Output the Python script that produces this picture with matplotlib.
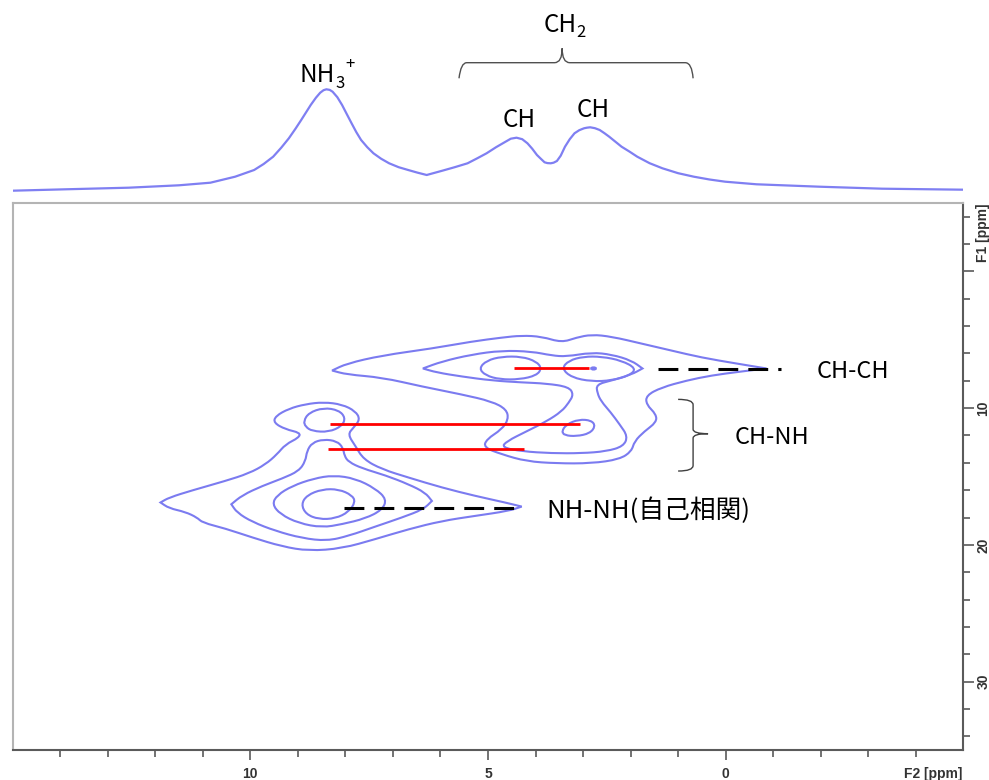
import numpy as np
import matplotlib
matplotlib.use("Agg")
import matplotlib.pyplot as plt
from matplotlib.path import Path
from matplotlib.patches import PathPatch
from matplotlib.ticker import FixedLocator
import matplotlib.transforms as mtransforms

# ---------------- data ----------------
# 1D projection (F2 ppm, intensity a.u.)
spec_ppm = [15.0, 13.88, 12.56, 11.5, 10.84, 10.32, 9.92, 9.72, 9.52, 9.35, 9.19, 9.05, 8.93,
            8.73, 8.62, 8.53, 8.46, 8.40, 8.33, 8.27, 8.17, 8.07, 7.97, 7.87, 7.77, 7.67, 7.54,
            7.41, 7.25, 7.08, 6.88, 6.68, 6.48, 6.29, 5.96, 5.70, 5.43, 5.23, 5.03, 4.83, 4.63,
            4.52, 4.40, 4.28, 4.17, 4.07, 3.97, 3.89, 3.81, 3.75, 3.68, 3.62, 3.55, 3.47, 3.38,
            3.28, 3.18, 3.08, 2.98, 2.92, 2.85, 2.75, 2.65, 2.55, 2.45, 2.32, 2.19, 2.02, 1.86,
            1.60, 1.33, 1.00, 0.67, 0.34, 0.01, -0.65, -1.97, -3.29, -5.0]
spec_int = [0, 1.4, 3.0, 5.4, 8.0, 14.0, 20.7, 26.7, 34.0, 43.0, 52.4, 62.0, 70.7,
            85.7, 93.0, 98.0, 100.5, 101.4, 100.8, 99.0, 93.5, 85.7, 76.5, 67.4, 58.5, 50.7, 43.5,
            37.4, 32.0, 27.4, 23.5, 20.7, 18.0, 15.7, 20.0, 23.5, 27.4, 32.3, 37.4, 43.5, 49.0,
            52.0, 53.0, 51.5, 47.4, 42.0, 35.7, 32.0, 28.4, 27.6, 27.4, 28.0, 29.7, 35.0, 44.0,
            51.5, 57.4, 60.5, 62.4, 63.0, 63.4, 62.5, 60.7, 57.5, 54.0, 49.0, 44.0, 39.0, 34.0,
            27.5, 22.4, 17.5, 14.0, 11.2, 9.0, 6.4, 4.0, 2.0, 1.0]

up_l1_f2 = [8.28, 7.97, 7.23, 6.18, 5.34, 4.71, 4.29, 3.87, 3.45, 3.14, 2.82, 2.40, 1.77, 1.14,
            0.51, -0.23, -0.86, -0.33, 0.30, 0.82, 1.35, 1.67, 1.67, 1.46, 1.46, 1.71, 1.92,
            1.98, 2.23, 2.82, 3.56, 4.19, 4.71, 5.09, 5.03, 4.71, 4.57, 4.61, 4.92, 5.55, 6.39,
            7.23, 7.97]
up_l1_f1 = [7.25, 6.74, 6.15, 5.64, 5.13, 4.84, 4.69, 4.77, 5.20, 4.84, 4.62, 4.77, 5.28, 5.79,
            6.30, 6.74, 7.10, 7.32, 7.61, 7.98, 8.49, 9.07, 9.73, 10.46, 11.04, 11.70, 12.43,
            13.16, 13.74, 14.04, 14.04, 13.89, 13.38, 12.87, 12.28, 11.55, 10.82, 10.09, 9.51,
            9.00, 8.42, 7.76, 7.54]
up_l2_f2 = [6.37, 5.97, 5.34, 4.71, 4.08, 3.66, 3.35, 2.82, 2.40, 1.98, 1.75, 1.98, 2.40, 2.72,
            2.70, 2.62, 2.42, 2.23, 2.06, 2.15, 2.51, 3.03, 3.66, 4.29, 4.71, 4.61, 4.19, 3.77,
            3.45, 3.30, 3.20, 3.30, 3.77, 4.29, 4.92, 5.55, 6.08]
up_l2_f1 = [7.10, 6.59, 6.08, 5.79, 5.86, 6.15, 6.23, 5.93, 6.08, 6.52, 7.10, 7.54, 7.98, 8.27,
            8.90, 9.50, 10.30, 11.19, 12.06, 12.79, 13.16, 13.30, 13.30, 13.16, 12.87, 12.43,
            11.70, 10.97, 10.24, 9.60, 9.00, 8.45, 8.20, 8.12, 7.98, 7.69, 7.39]
up_l3a_f2 = [5.19, 5.03, 4.71, 4.29, 3.98, 3.87, 3.98, 4.33, 4.75, 5.05]
up_l3a_f1 = [7.10, 6.52, 6.23, 6.23, 6.59, 7.10, 7.61, 7.90, 7.90, 7.61]
up_l3b_f2 = [3.45, 3.30, 2.99, 2.61, 2.19, 1.88, 2.02, 2.40, 2.82, 3.24]
up_l3b_f1 = [7.10, 6.52, 6.23, 6.23, 6.52, 7.10, 7.61, 7.98, 8.05, 7.76]
up_l4b_f2 = [2.85, 2.78, 2.71, 2.78]
up_l4b_f1 = [7.10, 6.99, 7.10, 7.21]
chnh_l3_f2 = [3.45, 3.35, 3.09, 2.82, 2.74, 2.86, 3.14, 3.39]
chnh_l3_f1 = [11.70, 11.19, 10.82, 10.90, 11.33, 11.85, 12.06, 11.99]

lo_l1_f2 = [11.89, 11.71, 11.22, 10.53, 10.03, 9.68, 9.44, 9.26, 8.98, 8.95, 9.26, 9.51, 9.47,
            9.19, 8.84, 8.46, 8.07, 7.79, 7.69, 7.83, 7.95, 7.79, 7.62, 7.23, 6.67, 5.97, 5.27,
            4.64, 4.29, 4.57, 5.27, 5.97, 6.67, 7.37, 8.07, 8.77, 9.33, 9.96, 10.53, 11.01,
            11.12, 11.37, 11.71]
lo_l1_f1 = [16.90, 16.54, 16.01, 15.33, 14.77, 14.11, 13.38, 12.65, 12.16, 11.80, 11.55, 11.07,
            10.58, 10.04, 9.71, 9.56, 9.73, 10.22, 10.82, 11.43, 11.92, 12.77, 13.74, 14.47,
            15.08, 15.81, 16.42, 16.90, 17.20, 17.52, 17.88, 18.25, 18.85, 19.58, 20.26, 20.44,
            20.12, 19.46, 18.80, 18.37, 18.00, 17.59, 17.32]
lo_l2_f2 = [10.40, 10.17, 9.75, 9.33, 8.98, 8.84, 8.81, 8.70, 8.46, 8.18, 8.05, 8.02, 7.93, 7.65,
            7.16, 6.67, 6.32, 6.18, 6.36, 6.81, 7.37, 7.93, 8.39, 8.91, 9.47, 9.96, 10.28]
lo_l2_f1 = [17.03, 16.37, 15.69, 15.15, 14.60, 13.87, 13.14, 12.53, 12.28, 12.41, 12.89, 13.50,
            13.94, 14.40, 14.91, 15.57, 16.18, 16.79, 17.40, 18.00, 18.66, 19.34, 19.71, 19.51,
            18.98, 18.32, 17.64]
lo_l3_f2 = [9.54, 9.44, 9.12, 8.67, 8.25, 7.79, 7.37, 7.13, 7.23, 7.58, 8.07, 8.49, 8.98, 9.37]
lo_l3_f1 = [17.03, 16.37, 15.69, 15.15, 14.91, 15.15, 15.88, 16.67, 17.45, 18.07, 18.49, 18.73,
            18.42, 17.76]
lo_l4_f2 = [8.93, 8.81, 8.49, 8.14, 7.86, 7.79, 7.93, 8.21, 8.56, 8.83]
lo_l4_f1 = [17.03, 16.37, 15.93, 15.93, 16.37, 16.86, 17.59, 18.07, 18.13, 17.76]
nhch_l2_f2 = [8.88, 8.77, 8.46, 8.14, 8.00, 8.07, 8.35, 8.70, 8.84]
nhch_l2_f1 = [10.95, 10.34, 9.97, 10.15, 10.70, 11.31, 11.75, 11.68, 11.36]

# correlation guide lines: (F1, F2 start, F2 end)
red_lines = [(7.10, 4.46, 2.88), (11.19, 8.33, 3.07), (13.01, 8.37, 4.25)]
dash_lines = [(7.12, 1.42, -1.17), (17.27, 8.04, 4.40)]

x_major = [10, 5, 0]
x_minor = [14, 13, 12, 11, 9, 8, 7, 6, 4, 3, 2, 1, -1, -2, -3, -4]
y_major = [0, 10, 20, 30]
y_major_labels = ["", "10", "20", "30"]
y_minor = [-4, -2, 2, 4, 6, 8, 12, 14, 16, 18, 22, 24, 26, 28, 32, 34]

# ---------------- style ----------------
CONT = "#7b7bf0"
CJK = ["Noto Sans CJK JP", "DejaVu Sans"]
TICKFONT = dict(family="Liberation Sans", weight="bold", size=10)


def smooth_ring(f2, f1, sharp=()):
    pts = []
    for i, p in enumerate(zip(f2, f1)):
        pts.append(p)
        if i in sharp:
            pts.append(p)
    P = np.array(pts, dtype=float)
    M = (P + np.roll(P, -1, axis=0)) / 2.0
    verts = [M[-1]]
    codes = [Path.MOVETO]
    for i in range(len(P)):
        verts += [P[i], M[i]]
        codes += [Path.CURVE3, Path.CURVE3]
    return Path(verts, codes)


fig = plt.figure(figsize=(9.89, 7.80), dpi=100)
fig.patch.set_facecolor("white")

ax = fig.add_axes([0.01284, 0.03846, 0.96117, 0.70128])
ax_top = fig.add_axes([0.01284, 0.7436, 0.96117, 0.2564])

# ---- 1D projection ----
ax_top.plot(spec_ppm, spec_int, color="#7f7ff2", lw=1.6)
ax_top.set_xlim(15, -5)
ax_top.set_ylim(-9.3, 190.7)
ax_top.axis("off")

LBL = 17.5
SUB = 12
t_nh = ax_top.text(8.96, 109, "NH", family=CJK, fontsize=LBL, ha="left", va="baseline")
t_3 = ax_top.annotate("3", xy=(1.0, 102.4), xycoords=(t_nh, "data"), xytext=(0.3, 0),
                      textcoords="offset points", family=CJK, fontsize=SUB, ha="left",
                      va="baseline")
ax_top.annotate("+", xy=(1.0, 126.0), xycoords=(t_3, "data"), xytext=(0.2, 0),
                textcoords="offset points", family=CJK, fontsize=SUB, ha="left", va="center")
ax_top.text(4.69, 64, "CH", family=CJK, fontsize=LBL, ha="left", va="baseline")
ax_top.text(3.14, 73.4, "CH", family=CJK, fontsize=LBL, ha="left", va="baseline")
t_ch2 = ax_top.text(3.84, 159, "CH", family=CJK, fontsize=LBL, ha="left", va="baseline")
ax_top.annotate("2", xy=(1.0, 154), xycoords=(t_ch2, "data"), xytext=(0.3, 0),
                textcoords="offset points", family=CJK, fontsize=SUB, ha="left", va="baseline")

# horizontal brace over CH2 region
bv = [(5.61, 112.4), (5.57, 128), (5.45, 128), (3.60, 128), (3.44, 128), (3.44, 142.4),
      (3.44, 128), (3.28, 128), (0.85, 128), (0.71, 128), (0.685, 112.4)]
bc = [Path.MOVETO, Path.CURVE3, Path.CURVE3, Path.LINETO, Path.CURVE3, Path.CURVE3,
      Path.CURVE3, Path.CURVE3, Path.LINETO, Path.CURVE3, Path.CURVE3]
ax_top.add_patch(PathPatch(Path(bv, bc), fill=False, edgecolor="#505050", lw=1.0))

# ---- 2D map ----
ax.set_xlim(15, -5)
ax.set_ylim(35, -5)

rings = [
    (up_l1_f2, up_l1_f1, (0, 16)),
    (up_l2_f2, up_l2_f1, (0, 10)),
    (up_l3a_f2, up_l3a_f1, ()),
    (up_l3b_f2, up_l3b_f1, ()),
    (up_l4b_f2, up_l4b_f1, ()),
    (chnh_l3_f2, chnh_l3_f1, ()),
    (lo_l1_f2, lo_l1_f1, (0, 28)),
    (lo_l2_f2, lo_l2_f1, (0, 17)),
    (lo_l3_f2, lo_l3_f1, ()),
    (lo_l4_f2, lo_l4_f1, ()),
    (nhch_l2_f2, nhch_l2_f1, ()),
]
for f2, f1, sharp in rings:
    ax.add_patch(PathPatch(smooth_ring(f2, f1, sharp), fill=False, edgecolor=CONT, lw=1.5))

for f1, a, b in red_lines:
    ax.plot([a, b], [f1, f1], color="#ff0000", lw=2.0, solid_capstyle="butt")
for f1, a, b in dash_lines:
    ax.plot([a, b], [f1, f1], color="black", lw=2.2, dashes=(6.5, 3.3), dash_capstyle="butt")

# labels
ax.text(-1.91, 7.80, "CH-CH", family=CJK, fontsize=17, ha="left", va="baseline")
ax.text(-0.19, 12.65, "CH-NH", family=CJK, fontsize=17, ha="left", va="baseline")
ax.text(3.77, 18.05, "NH-NH(自己相関)", family=CJK, fontsize=18.5, ha="left", va="baseline")

# vertical brace for CH-NH
xv, xe, xt = 0.685, 1.00, 0.37
rv = [(xe, 9.36), (xv, 9.36), (xv, 9.75), (xv, 11.55), (xv, 11.87), (xt, 11.87),
      (xv, 11.87), (xv, 12.19), (xv, 14.2), (xv, 14.6), (xe, 14.6)]
rc = [Path.MOVETO, Path.CURVE3, Path.CURVE3, Path.LINETO, Path.CURVE3, Path.CURVE3,
      Path.CURVE3, Path.CURVE3, Path.LINETO, Path.CURVE3, Path.CURVE3]
ax.add_patch(PathPatch(Path(rv, rc), fill=False, edgecolor="#404040", lw=1.0))

# ---- axes styling ----
for s in ("left", "top"):
    ax.spines[s].set_color("#b4b4b4")
    ax.spines[s].set_linewidth(1.5)
for s in ("bottom", "right"):
    ax.spines[s].set_color("#5a5a5a")
    ax.spines[s].set_linewidth(1.5)

ax.xaxis.set_major_locator(FixedLocator(x_major))
ax.xaxis.set_minor_locator(FixedLocator(x_minor))
ax.set_xticklabels([str(v) for v in x_major])
ax.yaxis.tick_right()
ax.yaxis.set_major_locator(FixedLocator(y_major))
ax.yaxis.set_minor_locator(FixedLocator(y_minor))
ax.set_yticklabels(y_major_labels)

ax.tick_params(axis="x", which="major", length=7.4, width=1.2, color="#5a5a5a", pad=5,
               labelcolor="#333333")
ax.tick_params(axis="x", which="minor", length=5.0, width=1.2, color="#5a5a5a")
ax.tick_params(axis="y", which="major", length=7.7, width=1.2, color="#5a5a5a", pad=1.7,
               labelcolor="#333333", labelrotation=90)
ax.tick_params(axis="y", which="minor", length=5.0, width=1.2, color="#5a5a5a")
for lbl in ax.get_xticklabels() + ax.get_yticklabels():
    lbl.set_fontfamily(TICKFONT["family"])
    lbl.set_fontweight(TICKFONT["weight"])
    lbl.set_fontsize(TICKFONT["size"])
for lbl in ax.get_yticklabels():
    lbl.set_va("center")

tx = mtransforms.blended_transform_factory(ax.transData, ax.transAxes)
ty = mtransforms.blended_transform_factory(ax.transAxes, ax.transData)
ax.annotate("F2 [ppm]", xy=(-4.36, 0), xycoords=tx, xytext=(0, -12.4), textcoords="offset points",
            ha="center", va="top", color="#333333", **TICKFONT)
ax.annotate("F1 [ppm]", xy=(1.0, -2.8), xycoords=ty, xytext=(9.0, 0), textcoords="offset points",
            ha="left", va="center", rotation=90, color="#333333", **TICKFONT)

fig.savefig("out.png", dpi=100, facecolor="white")
